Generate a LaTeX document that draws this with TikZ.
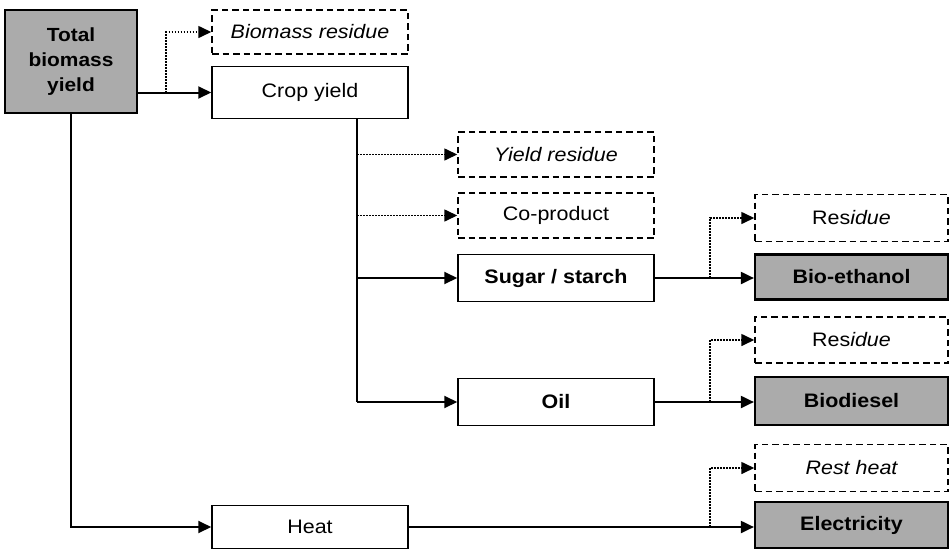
\documentclass[tikz,border=0pt]{standalone}
\usepackage{fontspec}
\setmainfont[FakeStretch=1.1]{Liberation Sans}
\usetikzlibrary{arrows.meta}
\begin{document}
\begin{tikzpicture}[x=1pt,y=-1pt,
  base/.style={inner sep=0pt, align=center, font=\fontsize{19.5}{23}\selectfont},
  box/.style={base, draw, line width=1.5pt},
  dbox/.style={base, draw, line width=1.5pt, dash pattern=on 6.5pt off 4pt},
  sbox/.style={base, draw, line width=2.2pt, fill=black!33, font=\fontsize{19.5}{23}\selectfont\bfseries},
  mid/.style={minimum width=196pt},
  rgt/.style={minimum width=193pt},
  conn/.style={line width=2pt, -{Triangle[length=13pt,width=12pt]}},
  dconn/.style={line width=1.6pt, dash pattern=on 1.6pt off 1.4pt, -{Triangle[length=13pt,width=12pt]}},
  plain/.style={line width=2pt}
]
\useasboundingbox (0,0) rectangle (952,549);

\node[sbox, minimum width=132pt, minimum height=103pt, font=\fontsize{19}{25}\selectfont\bfseries] (total) at (71,61.5) {Total\\biomass\\yield};
\node[dbox, mid, minimum height=44pt] (bres) at (310,32) {\itshape Biomass residue};
\node[box, mid, minimum height=52pt] (crop) at (310,92.5) {Crop yield};

\node[dbox, mid, minimum height=45pt] (yres) at (556,154.5) {\itshape Yield residue};
\node[dbox, mid, minimum height=45pt] (cop) at (556,215.5) {Co-product};
\node[box, mid, minimum height=47pt, font=\fontsize{19.5}{23}\selectfont\bfseries] (sugar) at (556,278) {Sugar / starch};
\node[box, mid, minimum height=47pt, font=\fontsize{19.5}{23}\selectfont\bfseries] (oil) at (556,402) {Oil};
\node[box, mid, minimum height=43pt] (heat) at (310,527) {Heat};

\node[dbox, rgt, minimum height=47pt] (res1) at (851.5,218) {Res\textit{idue}};
\node[sbox, rgt, minimum height=45pt] (eth) at (851.5,277) {Bio-ethanol};
\node[dbox, rgt, minimum height=46pt] (res2) at (851.5,340) {Res\textit{idue}};
\node[sbox, rgt, minimum height=48pt] (bdsl) at (851.5,401) {Biodiesel};
\node[dbox, rgt, minimum height=47pt] (rest) at (851.5,468) {\itshape Rest heat};
\node[sbox, rgt, minimum height=46pt] (elec) at (851.5,525) {Electricity};

% total biomass -> crop yield, biomass residue
\coordinate (j1) at (166,92.5);
\draw[conn] (total.east |- crop.west) -- (crop.west);
\draw[dconn] (j1) |- (bres.west);

% total -> heat
\draw[conn] (total.south) |- (heat.west);

% crop yield trunk
\coordinate (ctop) at (357,118.5);
\coordinate (cbot) at (357,402);
\draw[plain] (ctop) -- (cbot);
\draw[dconn] (ctop |- yres.west) -- (yres.west);
\draw[dconn] (ctop |- cop.west) -- (cop.west);
\draw[conn] (ctop |- sugar.west) -- (sugar.west);
\draw[conn] (cbot) -- (oil.west);

% sugar -> bio-ethanol
\coordinate (j2) at (710,278);
\draw[conn] (sugar.east) -- (eth.west |- sugar.east);
\draw[dconn] (j2) |- (res1.west);

% oil -> biodiesel
\coordinate (j3) at (710,402);
\draw[conn] (oil.east) -- (bdsl.west |- oil.east);
\draw[dconn] (j3) |- (res2.west);

% heat -> electricity
\coordinate (j4) at (710,527);
\draw[conn] (heat.east) -- (elec.west |- heat.east);
\draw[dconn] (j4) |- (rest.west);
\end{tikzpicture}
\end{document}
